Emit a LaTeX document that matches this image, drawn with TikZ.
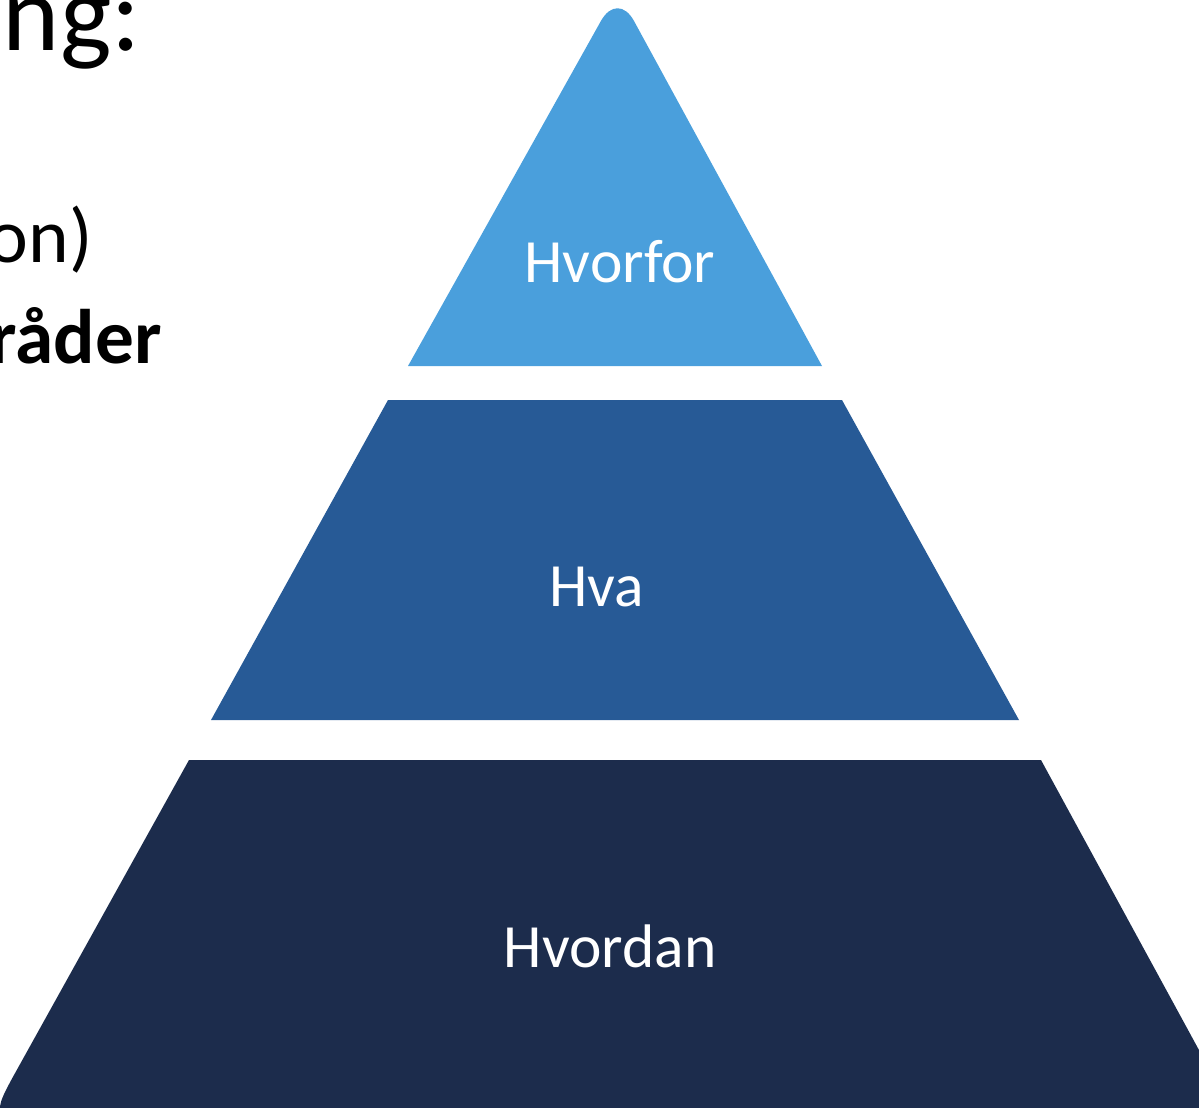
\documentclass[tikz,border=0pt]{standalone}
\usepackage{fontspec}
\setmainfont{Carlito}
\usepackage{tikz}

\definecolor{topblue}{RGB}{74,159,220}
\definecolor{midblue}{RGB}{39,90,150}
\definecolor{lowblue}{RGB}{28,44,76}

\begin{document}
\begin{tikzpicture}
 [x=0.02cm, y=-0.02cm,
  level label/.style={text=white, inner sep=0pt, anchor=base, font=\fontsize{35}{42}\selectfont},
  side text/.style={inner sep=0pt, anchor=base east, font=\fontsize{44}{52}\selectfont}]

\useasboundingbox (0,0) rectangle (1199,1107);

% pyramid layers
\fill[topblue] (408,366) -- (600.9,21) .. controls (610.4,4) and (624.7,4) .. (634,21) -- (822,366) -- cycle;
\fill[midblue] (388,400) -- (842,400) -- (1019,720) -- (211,720) -- cycle;
\fill[lowblue] (189,760) -- (1041,760) -- (1236,1118) -- (50,1118) .. controls (-10,1118) .. (19,1066) -- cycle;

\node[level label] (hvorfor) at (620,282) {Hvorfor};
\node[level label] (hva) at (597,606) {Hva};
\node[level label] (hvordan) at (610,967) {Hvordan};

% cut-off text on the left
\node[side text, font=\fontsize{62}{70}\selectfont] (title) at (141,50) {ng:};
\node[side text] (line1) at (93,262) {on)};
\node[side text, font=\fontsize{44}{52}\selectfont\bfseries] (line2) at (162,363) {råder};

\end{tikzpicture}
\end{document}
